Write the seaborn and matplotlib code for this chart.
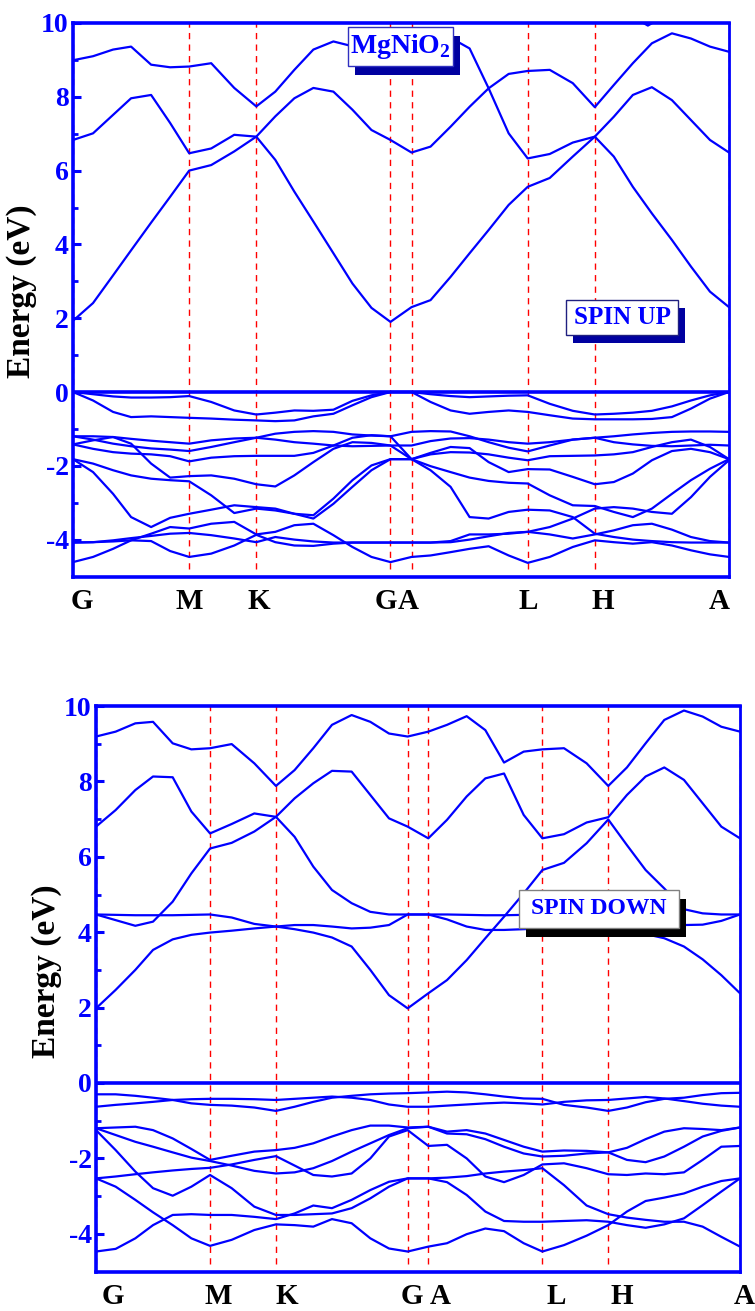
import pandas as pd
import seaborn as sns
import matplotlib.pyplot as plt
import matplotlib.transforms as mtransforms
from matplotlib.patches import Rectangle

sns.set_style('white')
plt.rcParams['font.family'] = ['Liberation Serif', 'DejaVu Serif']
plt.rcParams['font.weight'] = 'bold'
plt.rcParams['mathtext.fontset'] = 'custom'
plt.rcParams['mathtext.rm'] = 'Liberation Serif:bold'
plt.rcParams['mathtext.bf'] = 'Liberation Serif:bold'
plt.rcParams['lines.solid_joinstyle'] = 'round'
plt.rcParams['lines.solid_capstyle'] = 'round'

# k-path sampling (same path for both panels)
kpts = [0, 20, 40, 58, 78, 97, 116, 138, 161, 183, 202, 221, 240, 260, 279, 298, 317,
        338, 357, 377, 396, 415, 435, 454, 476, 499, 521, 540, 559, 578, 598, 617, 636, 655]
sym_k = [0, 116, 183, 317, 338, 454, 521, 655]
k_labels = ['G', 'M', 'K', 'G', 'A', 'L', 'H', 'A']
up_lab_k = [9, 116, 186, 312, 335, 454, 529, 645]
dn_lab_k = [17, 124, 194, 321, 350, 468, 535, 659]

yticks = [-4, -2, 0, 2, 4, 6, 8, 10]
ytick_labels = ['-4', '-2', '0', '2', '4', '6', '8', '10']
yminor = [-3, -1, 1, 3, 5, 7, 9]

# ---- spin up bands (eV) ----
up_c1 = [1.93, 2.41, 3.16, 3.84, 4.59, 5.29, 6.00, 6.15, 6.52, 6.92, 6.29, 5.43, 4.62, 3.76, 2.94, 2.28, 1.90,
         2.30, 2.49, 3.12, 3.76, 4.39, 5.07, 5.56, 5.80, 6.38, 6.92, 6.38, 5.56, 4.84, 4.12, 3.40, 2.72, 2.30]
up_c2 = [6.83, 7.01, 7.51, 7.96, 8.05, 7.29, 6.47, 6.60, 6.97, 6.92, 7.47, 7.96, 8.24, 8.14, 7.65, 7.10, 6.83,
         6.49, 6.65, 7.19, 7.73, 8.23, 7.01, 6.33, 6.45, 6.76, 6.92, 7.46, 8.05, 8.26, 7.91, 7.37, 6.83, 6.49]
up_c3 = [8.99, 9.10, 9.28, 9.36, 8.87, 8.80, 8.82, 8.91, 8.24, 7.74, 8.14, 8.73, 9.28, 9.50, 9.37, 9.30, 9.20,
         9.40, 9.55, 9.60, 9.31, 8.23, 8.62, 8.70, 8.73, 8.37, 7.72, 8.32, 8.91, 9.45, 9.72, 9.58, 9.36, 9.22]
up_c4_k = [560, 574, 588]
up_c4 = [10.15, 9.93, 10.15]

up_v1 = [0, -0.06, -0.12, -0.15, -0.15, -0.14, -0.11, -0.27, -0.50, -0.61, -0.56, -0.50, -0.51, -0.48, -0.24, -0.09, 0,
         0, -0.06, -0.11, -0.14, -0.12, -0.10, -0.09, -0.32, -0.51, -0.61, -0.59, -0.56, -0.51, -0.39, -0.23, -0.09, 0]
up_v2 = [0, -0.23, -0.54, -0.68, -0.66, -0.68, -0.70, -0.72, -0.75, -0.77, -0.79, -0.77, -0.66, -0.59, -0.36, -0.14, 0,
         0, -0.27, -0.50, -0.59, -0.54, -0.50, -0.54, -0.63, -0.72, -0.74, -0.74, -0.74, -0.73, -0.68, -0.45, -0.18, 0]
up_v3 = [-1.20, -1.20, -1.22, -1.27, -1.32, -1.36, -1.40, -1.31, -1.26, -1.24, -1.13, -1.08, -1.06, -1.08, -1.15, -1.18, -1.20,
         -1.08, -1.06, -1.07, -1.20, -1.36, -1.51, -1.61, -1.45, -1.29, -1.24, -1.20, -1.15, -1.11, -1.08, -1.07, -1.07, -1.08]
up_v4 = [-1.42, -1.31, -1.22, -1.40, -1.94, -2.32, -2.28, -2.26, -2.35, -2.50, -2.56, -2.26, -1.90, -1.54, -1.36, -1.38, -1.45,
         -1.82, -1.65, -1.49, -1.52, -1.90, -2.17, -2.09, -2.10, -2.30, -2.50, -2.44, -2.21, -1.85, -1.60, -1.54, -1.63, -1.82]
up_v5 = [-1.20, -1.29, -1.40, -1.47, -1.53, -1.56, -1.60, -1.49, -1.36, -1.24, -1.29, -1.36, -1.40, -1.45, -1.47, -1.46, -1.45,
         -1.45, -1.33, -1.26, -1.25, -1.29, -1.36, -1.40, -1.36, -1.29, -1.24, -1.36, -1.42, -1.46, -1.47, -1.45, -1.43, -1.45]
up_v6 = [-1.42, -1.54, -1.63, -1.67, -1.69, -1.74, -1.88, -1.78, -1.74, -1.73, -1.73, -1.73, -1.65, -1.45, -1.24, -1.17, -1.20,
         -1.82, -1.69, -1.63, -1.64, -1.69, -1.78, -1.85, -1.74, -1.73, -1.72, -1.69, -1.63, -1.49, -1.36, -1.29, -1.49, -1.82]
up_v7 = [-1.82, -1.94, -2.12, -2.26, -2.35, -2.39, -2.42, -2.80, -3.28, -3.16, -3.21, -3.30, -3.43, -3.03, -2.57, -2.12, -1.82,
         -1.82, -2.01, -2.17, -2.32, -2.41, -2.46, -2.48, -2.80, -3.07, -3.09, -3.25, -3.39, -3.16, -2.76, -2.39, -2.08, -1.82]
up_v8 = [-1.82, -2.17, -2.76, -3.39, -3.66, -3.41, -3.30, -3.19, -3.07, -3.12, -3.16, -3.30, -3.34, -2.89, -2.39, -1.99, -1.82,
         -1.82, -2.12, -2.57, -3.39, -3.43, -3.25, -3.19, -3.21, -3.39, -3.84, -3.93, -4.00, -4.04, -4.07, -4.08, -4.08, -4.08]
up_v9 = [-4.08, -4.07, -4.02, -3.96, -3.90, -3.84, -3.82, -3.88, -3.97, -4.07, -3.93, -4.00, -4.05, -4.08, -4.08, -4.08, -4.08,
         -4.08, -4.08, -4.04, -3.86, -3.86, -3.84, -3.79, -3.66, -3.43, -3.16, -3.12, -3.16, -3.25, -3.30, -2.85, -2.30, -1.85]
up_v10 = [-4.08, -4.07, -4.05, -4.02, -4.04, -4.31, -4.47, -4.38, -4.16, -3.87, -4.07, -4.16, -4.17, -4.11, -4.08, -4.08, -4.08,
          -4.08, -4.08, -4.07, -4.00, -3.91, -3.82, -3.79, -3.86, -3.97, -3.86, -3.75, -3.61, -3.57, -3.73, -3.93, -4.04, -4.08]
up_v11 = [-4.61, -4.47, -4.25, -4.02, -3.84, -3.66, -3.70, -3.57, -3.52, -3.86, -3.79, -3.61, -3.57, -3.88, -4.20, -4.47, -4.61,
          -4.47, -4.43, -4.34, -4.25, -4.18, -4.43, -4.63, -4.47, -4.20, -4.02, -4.07, -4.11, -4.07, -4.16, -4.29, -4.40, -4.47]

# ---- spin down bands (eV) ----
dn_c1 = [1.98, 2.47, 3.00, 3.53, 3.81, 3.93, 3.99, 4.04, 4.10, 4.15, 4.08, 3.99, 3.86, 3.62, 3.00, 2.33, 1.98,
         2.38, 2.73, 3.26, 3.84, 4.41, 5.03, 5.65, 5.84, 6.36, 6.99, 6.31, 5.65, 5.16, 4.61, 4.50, 4.47, 4.47]
dn_c2 = [4.47, 4.32, 4.17, 4.28, 4.81, 5.56, 6.22, 6.37, 6.67, 7.06, 7.55, 7.95, 8.28, 8.26, 7.64, 7.02, 6.80,
         6.49, 6.98, 7.60, 8.08, 8.21, 7.11, 6.49, 6.60, 6.91, 7.05, 7.64, 8.13, 8.37, 8.04, 7.42, 6.80, 6.49]
dn_c3 = [6.80, 7.24, 7.77, 8.13, 8.11, 7.20, 6.62, 6.87, 7.15, 7.06, 6.53, 5.74, 5.12, 4.77, 4.54, 4.47, 4.47,
         4.47, 4.47, 4.46, 4.45, 4.45, 4.46, 4.47, 4.47, 4.47, 4.47, 4.47, 4.36, 4.23, 4.19, 4.20, 4.30, 4.47]
dn_c4 = [4.47, 4.46, 4.45, 4.45, 4.45, 4.46, 4.47, 4.39, 4.22, 4.15, 4.19, 4.19, 4.15, 4.10, 4.12, 4.19, 4.47,
         4.47, 4.34, 4.15, 4.06, 4.06, 4.08, 4.10, 4.11, 4.10, 4.06, 4.01, 3.95, 3.84, 3.62, 3.28, 2.86, 2.38]
dn_c5 = [9.19, 9.32, 9.54, 9.58, 9.01, 8.85, 8.88, 8.99, 8.48, 7.88, 8.30, 8.88, 9.50, 9.76, 9.58, 9.27, 9.19,
         9.32, 9.50, 9.73, 9.36, 8.50, 8.79, 8.85, 8.88, 8.48, 7.88, 8.37, 9.01, 9.63, 9.88, 9.72, 9.45, 9.32]

dn_v1 = [-0.30, -0.30, -0.34, -0.39, -0.45, -0.54, -0.58, -0.60, -0.65, -0.74, -0.63, -0.50, -0.39, -0.34, -0.30, -0.28, -0.27,
         -0.25, -0.23, -0.25, -0.30, -0.36, -0.41, -0.42, -0.58, -0.65, -0.74, -0.65, -0.51, -0.42, -0.39, -0.32, -0.27, -0.26]
dn_v2 = [-0.63, -0.58, -0.54, -0.50, -0.45, -0.43, -0.42, -0.42, -0.43, -0.45, -0.42, -0.39, -0.36, -0.39, -0.45, -0.57, -0.63,
         -0.63, -0.60, -0.57, -0.54, -0.52, -0.54, -0.57, -0.50, -0.46, -0.45, -0.41, -0.37, -0.41, -0.48, -0.55, -0.60, -0.63]
dn_v3 = [-1.20, -1.18, -1.16, -1.25, -1.47, -1.75, -2.04, -1.93, -1.82, -1.78, -1.72, -1.60, -1.42, -1.25, -1.13, -1.13, -1.18,
         -1.16, -1.29, -1.25, -1.34, -1.51, -1.69, -1.82, -1.79, -1.80, -1.84, -2.04, -2.10, -1.95, -1.69, -1.42, -1.27, -1.18]
dn_v4 = [-1.20, -1.38, -1.56, -1.69, -1.84, -1.98, -2.07, -2.19, -2.33, -2.40, -2.37, -2.26, -2.07, -1.82, -1.60, -1.38, -1.20,
         -1.16, -1.34, -1.36, -1.49, -1.69, -1.87, -1.95, -1.93, -1.87, -1.84, -1.72, -1.49, -1.29, -1.20, -1.22, -1.25, -1.18]
dn_v5 = [-1.25, -1.78, -2.35, -2.79, -2.99, -2.75, -2.44, -2.79, -3.28, -3.50, -3.50, -3.48, -3.46, -3.32, -3.06, -2.75, -2.53,
         -2.53, -2.51, -2.47, -2.40, -2.35, -2.31, -2.26, -2.71, -3.25, -3.48, -3.57, -3.63, -3.68, -3.68, -3.81, -4.08, -4.34]
dn_v6 = [-2.53, -2.48, -2.42, -2.37, -2.32, -2.28, -2.25, -2.16, -2.04, -1.94, -2.19, -2.44, -2.48, -2.40, -2.00, -1.42, -1.25,
         -1.67, -1.64, -2.00, -2.48, -2.63, -2.44, -2.16, -2.13, -2.26, -2.42, -2.44, -2.40, -2.42, -2.37, -2.04, -1.69, -1.67]
dn_v7 = [-2.53, -2.75, -3.10, -3.43, -3.77, -4.12, -4.32, -4.16, -3.90, -3.75, -3.77, -3.81, -3.61, -3.72, -4.12, -4.39, -4.47,
         -4.34, -4.25, -4.01, -3.86, -3.93, -4.25, -4.47, -4.30, -4.05, -3.77, -3.41, -3.13, -3.04, -2.93, -2.75, -2.60, -2.53]
dn_v8 = [-4.47, -4.40, -4.12, -3.77, -3.50, -3.48, -3.50, -3.50, -3.55, -3.61, -3.46, -3.25, -3.32, -3.10, -2.84, -2.62, -2.53,
         -2.53, -2.63, -2.97, -3.41, -3.66, -3.68, -3.68, -3.66, -3.64, -3.68, -3.77, -3.84, -3.75, -3.59, -3.24, -2.88, -2.53]

up_bands = {'c1': up_c1, 'c2': up_c2, 'c3': up_c3, 'v1': up_v1, 'v2': up_v2, 'v3': up_v3, 'v4': up_v4,
            'v5': up_v5, 'v6': up_v6, 'v7': up_v7, 'v8': up_v8, 'v9': up_v9, 'v10': up_v10, 'v11': up_v11}
dn_bands = {'c1': dn_c1, 'c2': dn_c2, 'c3': dn_c3, 'c4': dn_c4, 'c5': dn_c5, 'v1': dn_v1, 'v2': dn_v2,
            'v3': dn_v3, 'v4': dn_v4, 'v5': dn_v5, 'v6': dn_v6, 'v7': dn_v7, 'v8': dn_v8}

W, H = 755, 1311
fig = plt.figure(figsize=(W / 100, H / 100), dpi=100)
ax_up = fig.add_axes([73 / W, 1 - 576.5 / H, 656 / W, 553.5 / H])
ax_dn = fig.add_axes([96 / W, 1 - 1271.5 / H, 644 / W, 565.5 / H])


def to_frame(bands, extra=None):
    rows = []
    for name, vals in bands.items():
        rows.append(pd.DataFrame({'k': kpts, 'E': vals, 'band': name}))
    if extra is not None:
        rows.append(pd.DataFrame({'k': extra[0], 'E': extra[1], 'band': 'extra'}))
    return pd.concat(rows, ignore_index=True)


def style_panel(ax, df, lab_k):
    sns.lineplot(data=df, x='k', y='E', units='band', estimator=None, color='#0000ff',
                 lw=1.6, ax=ax, legend=False)
    ax.vlines(sym_k, -4.8, 10, colors='red', linestyles=(0, (4.5, 3.8)), lw=1.0, zorder=1)
    ax.axhline(0, color='#0000ff', lw=2.6, zorder=3)
    ax.set_xlim(0, 655)
    ax.set_ylim(-5, 10)
    ax.set_xlabel('')
    ax.set_ylabel('')
    ax.set_xticks([])
    ax.set_yticks(yticks)
    ax.set_yticklabels(ytick_labels)
    ax.set_yticks(yminor, minor=True)
    ax.tick_params(axis='y', which='major', left=True, direction='in', length=6, width=2.2,
                   color='#0000ff', labelcolor='#0000ff', labelsize=20, pad=3)
    ax.tick_params(axis='y', which='minor', left=True, direction='in', length=3.5, width=2,
                   color='#0000ff')
    for side, s in ax.spines.items():
        s.set_visible(True)
        s.set_color('#0000ff')
        s.set_linewidth(2.6 if side != 'right' else 2.0)
    trans = mtransforms.blended_transform_factory(ax.transData, ax.transAxes)
    for kk, lab in zip(lab_k, k_labels):
        ax.text(kk, -0.045, lab, transform=trans, ha='center', va='center',
                fontsize=21, fontweight='bold', color='black', clip_on=False)


def shadow_box(x0, y0, x1, y1, text, size, edge, shade, dx=7, dy=9):
    fig.add_artist(Rectangle(((x0 + dx) / W, 1 - (y1 + dy) / H), (x1 - x0) / W, (y1 - y0) / H,
                             transform=fig.transFigure, facecolor=shade, edgecolor='none', zorder=5))
    fig.add_artist(Rectangle((x0 / W, 1 - y1 / H), (x1 - x0) / W, (y1 - y0) / H,
                             transform=fig.transFigure, facecolor='white', edgecolor=edge,
                             lw=1.0, zorder=6))
    fig.text((x0 + x1) / 2 / W, 1 - (y0 + y1) / 2 / H, text, ha='center', va='center',
             fontsize=size, color='#0000ff', fontweight='bold', zorder=7)


style_panel(ax_up, to_frame(up_bands, (up_c4_k, up_c4)), up_lab_k)
style_panel(ax_dn, to_frame(dn_bands), dn_lab_k)

fig.text(22 / W, 1 - 291 / H, 'Energy (eV)', rotation=90, ha='center', va='center',
         fontsize=24, fontweight='bold', color='black')
fig.text(47 / W, 1 - 971 / H, 'Energy (eV)', rotation=90, ha='center', va='center',
         fontsize=24, fontweight='bold', color='black')

shadow_box(348, 27, 453, 66, r'MgNiO$_\mathbf{2}$', 20, '#3030c0', '#0000a0')
shadow_box(566, 300, 678, 335, 'SPIN UP', 18, '#202080', '#0000a0', dy=8)
shadow_box(519, 890, 679, 928, 'SPIN DOWN', 17, 'gray', 'black')

fig.savefig('out.png', dpi=100)
